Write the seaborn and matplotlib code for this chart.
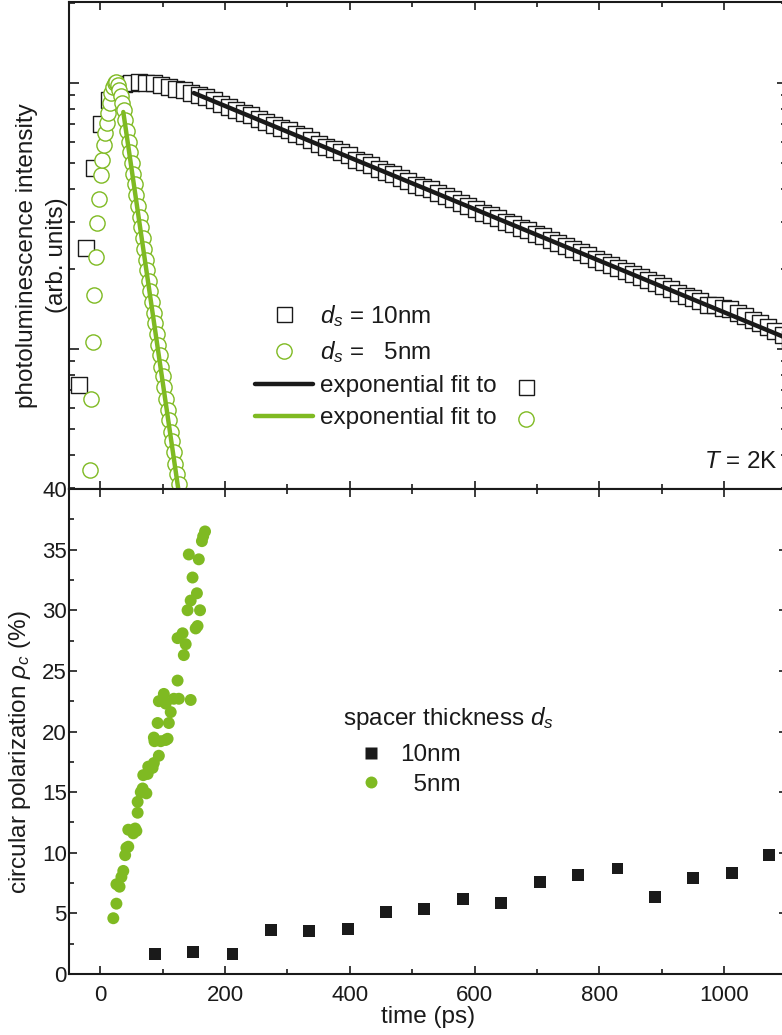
import matplotlib
matplotlib.use("Agg")
import matplotlib.pyplot as plt
from matplotlib.lines import Line2D
from matplotlib.ticker import MultipleLocator, LogLocator, NullFormatter
import pandas as pd
import seaborn as sns

GREEN = "#7FBA22"
INK = "#1a1a1a"

# ---- time-resolved photoluminescence (normalised), spacer 10 nm ----
pl_t_10nm = [-34, -22, -10, 2, 14, 26, 38, 50, 62, 74, 86, 98, 110, 122, 134, 146,
             158, 170, 182, 194, 206, 218, 230, 242, 254, 266, 278, 290, 302, 314,
             326, 338, 350, 362, 374, 386, 398, 410, 422, 434, 446, 458, 470, 482,
             494, 506, 518, 530, 542, 554, 566, 578, 590, 602, 614, 626, 638, 650,
             662, 674, 686, 698, 710, 722, 734, 746, 758, 770, 782, 794, 806, 818,
             830, 842, 854, 866, 878, 890, 902, 914, 926, 938, 950, 962, 974, 986,
             998, 1010, 1022, 1034, 1046, 1058, 1070, 1082, 1094, 1106]
pl_10nm = [0.073, 0.24, 0.48, 0.70, 0.86, 0.95, 0.99, 1.00, 1.01, 1.00, 1.00, 0.98,
           0.97, 0.95, 0.94, 0.92, 0.905, 0.885, 0.86, 0.835, 0.815, 0.79, 0.77,
           0.755, 0.73, 0.715, 0.695, 0.68, 0.665, 0.645, 0.63, 0.61, 0.59, 0.575,
           0.565, 0.55, 0.535, 0.515, 0.505, 0.49, 0.475, 0.465, 0.455, 0.44, 0.43,
           0.415, 0.405, 0.40, 0.385, 0.375, 0.365, 0.355, 0.345, 0.335, 0.325,
           0.32, 0.31, 0.30, 0.295, 0.285, 0.28, 0.27, 0.265, 0.258, 0.25, 0.243,
           0.237, 0.231, 0.225, 0.219, 0.213, 0.207, 0.202, 0.197, 0.192, 0.186,
           0.182, 0.177, 0.172, 0.168, 0.163, 0.159, 0.155, 0.151, 0.147, 0.146,
           0.143, 0.141, 0.137, 0.133, 0.129, 0.125, 0.121, 0.117, 0.113, 0.109]

# ---- time-resolved photoluminescence (normalised), spacer 5 nm ----
pl_t_5nm = [-17, -14.5, -12, -9.5, -7, -4.5, -2, 0.5, 3, 5.5, 8, 10.5, 13, 15.5, 18,
            20.5, 23, 25.5, 28, 30.5, 33, 35.5, 38, 40.5, 43, 45.5, 48, 50.5, 53,
            55.5, 58, 60.5, 63, 65.5, 68, 70.5, 73, 75.5, 78, 80.5, 83, 85.5, 88,
            90.5, 93, 95.5, 98, 100.5, 103, 105.5, 108, 110.5, 113, 115.5, 118,
            120.5, 123, 125.5, 128, 130.5]
pl_5nm = [0.035, 0.065, 0.106, 0.16, 0.222, 0.298, 0.366, 0.451, 0.514, 0.585,
          0.649, 0.707, 0.771, 0.841, 0.917, 0.966, 1.00, 1.01, 0.98, 0.94, 0.89,
          0.84, 0.79, 0.724, 0.66, 0.602, 0.549, 0.50, 0.456, 0.416, 0.379, 0.345,
          0.315, 0.287, 0.262, 0.238, 0.217, 0.198, 0.181, 0.165, 0.150, 0.137,
          0.125, 0.114, 0.104, 0.095, 0.086, 0.079, 0.072, 0.065, 0.059, 0.054,
          0.049, 0.045, 0.041, 0.037, 0.034, 0.031, 0.028, 0.026]

# ---- single-exponential fits (end points of the fitted range) ----
fit_t_10nm = [150, 1100]
fit_10nm = [0.917, 0.110]
fit_t_5nm = [37, 128]
fit_5nm = [0.778, 0.0268]

# ---- degree of circular polarization ----
pol_t_10nm = [88, 149, 212, 274, 335, 397, 458, 519, 582, 643, 705, 766, 829, 889,
              950, 1013, 1072]
pol_10nm = [1.65, 1.8, 1.65, 3.6, 3.55, 3.7, 5.1, 5.35, 6.2, 5.85, 7.55, 8.2, 8.7,
            6.35, 7.9, 8.3, 9.8]
pol_t_5nm = [21, 26, 26, 31, 34, 37, 40, 42, 45, 45, 53, 56, 58, 60, 60, 65, 68, 69,
             74, 76, 77, 84, 86, 87, 94, 97, 105, 86, 108, 92, 110, 94, 102, 105, 113,
             118, 126, 145, 124, 124, 132, 137, 134, 153, 156, 140, 160, 145, 155,
             148, 142, 158, 163, 165, 168]
pol_5nm = [4.6, 5.8, 7.4, 7.2, 8.0, 8.5, 9.8, 10.4, 10.5, 11.9, 11.6, 12.0, 11.8,
           13.3, 14.2, 15.0, 15.3, 16.4, 14.9, 16.5, 17.1, 17.0, 17.4, 19.2, 18.0,
           19.2, 19.3, 19.5, 19.4, 20.7, 20.7, 22.5, 23.1, 22.3, 21.6, 22.7, 22.7,
           22.6, 24.2, 27.7, 28.1, 27.2, 26.3, 28.5, 28.7, 30.0, 30.0, 30.8, 31.4,
           32.7, 34.6, 34.2, 35.7, 36.1, 36.5]

sns.set_style("ticks")
plt.rcParams.update({
    "font.family": ["Liberation Sans", "DejaVu Sans"],
    "mathtext.fontset": "custom",
    "mathtext.rm": "Liberation Sans",
    "mathtext.it": "Liberation Sans:italic",
    "mathtext.bf": "Liberation Sans:bold",
    "text.color": INK,
    "axes.labelcolor": INK,
    "axes.edgecolor": INK,
    "xtick.color": INK,
    "ytick.color": INK,
    "axes.linewidth": 1.5,
})

W, H = 782, 1035
fig = plt.figure(figsize=(W / 100, H / 100), dpi=100)
left, right = 69 / W, 786.6 / W
ax_pl = fig.add_axes([left, (H - 489) / H, right - left, (489 - 2) / H])
ax_pol = fig.add_axes([left, (H - 974) / H, right - left, (974 - 489) / H], sharex=ax_pl)

# ---------------- upper panel: PL transients ----------------
ax_pl.set_yscale("log")
df10 = pd.DataFrame({"t": pl_t_10nm, "I": pl_10nm})
df5 = pd.DataFrame({"t": pl_t_5nm, "I": pl_5nm})
sns.scatterplot(data=df10, x="t", y="I", ax=ax_pl, marker="s", s=117,
                facecolor="white", edgecolor=INK, linewidth=1.0, zorder=2, legend=False)
sns.lineplot(x=fit_t_10nm, y=fit_10nm, ax=ax_pl, color=INK, linewidth=3.2, zorder=3)
sns.scatterplot(data=df5, x="t", y="I", ax=ax_pl, marker="o", s=120,
                facecolor="white", edgecolor=GREEN, linewidth=1.0, zorder=4, legend=False)
sns.lineplot(x=fit_t_5nm, y=fit_5nm, ax=ax_pl, color=GREEN, linewidth=3.2, zorder=5)

ax_pl.set_xlim(-50, 1100)
ax_pl.set_ylim(0.0298, 2.016)
ax_pl.yaxis.set_major_locator(LogLocator(base=10))
ax_pl.yaxis.set_minor_locator(LogLocator(base=10, subs=range(2, 10)))
ax_pl.yaxis.set_major_formatter(NullFormatter())
ax_pl.yaxis.set_minor_formatter(NullFormatter())
ax_pl.set_xlabel("")
ax_pl.set_ylabel("photoluminescence intensity\n(arb. units)", fontsize=17.5,
                 linespacing=1.45)
ax_pl.yaxis.set_label_coords(-0.002, 0.48)
ax_pl.tick_params(axis="both", which="both", direction="in", top=True, right=True,
                  labelbottom=False, labelleft=False, width=1.2)
ax_pl.tick_params(axis="y", which="major", length=7)
ax_pl.tick_params(axis="y", which="minor", length=4)
ax_pl.tick_params(axis="x", which="major", length=6)
ax_pl.tick_params(axis="x", which="minor", length=3.5)

h_sq = Line2D([], [], ls="none", marker="s", ms=10.8, mfc="white", mec=INK, mew=1.0)
h_ci = Line2D([], [], ls="none", marker="o", ms=11, mfc="white", mec=GREEN, mew=1.0)
h_fk = Line2D([], [], color=INK, lw=3.2)
h_fg = Line2D([], [], color=GREEN, lw=3.2)
leg_pl = ax_pl.legend([h_sq, h_ci, h_fk, h_fg],
                      ["$d_s$ = 10nm", "$d_s$ =   5nm",
                       "exponential fit to", "exponential fit to"],
                      loc="upper left", bbox_to_anchor=(0.259, 0.382),
                      frameon=False, fontsize=17.5, handlelength=2.4,
                      handletextpad=0.3, labelspacing=0.42, borderpad=0,
                      borderaxespad=0)
ax_pl.text(0.9874, 0.0554, "$T$ = 2K", transform=ax_pl.transAxes,
           ha="right", va="center", fontsize=17.5)

# ---------------- lower panel: circular polarization ----------------
dp10 = pd.DataFrame({"t": pol_t_10nm, "rho": pol_10nm})
dp5 = pd.DataFrame({"t": pol_t_5nm, "rho": pol_5nm})
sns.scatterplot(data=dp10, x="t", y="rho", ax=ax_pol, marker="s", s=74,
                color=INK, edgecolor="none", zorder=3, legend=False)
sns.scatterplot(data=dp5, x="t", y="rho", ax=ax_pol, marker="o", s=74,
                color=GREEN, edgecolor="none", zorder=3, legend=False)
ax_pol.set_ylim(0, 40)
ax_pol.yaxis.set_major_locator(MultipleLocator(5))
ax_pol.yaxis.set_minor_locator(MultipleLocator(2.5))
ax_pol.xaxis.set_major_locator(MultipleLocator(200))
ax_pol.xaxis.set_minor_locator(MultipleLocator(100))
ax_pol.tick_params(axis="both", which="both", direction="in", top=True, right=True,
                   width=1.2, labelsize=16)
ax_pol.tick_params(axis="both", which="major", length=6)
ax_pol.tick_params(axis="both", which="minor", length=3.5)
ax_pol.tick_params(axis="y", pad=1.5)
ax_pol.tick_params(axis="x", pad=8)
ax_pol.set_xlabel("time (ps)", fontsize=17.5, labelpad=0)
ax_pol.set_ylabel(r"circular polarization $\rho_c$ (%)", fontsize=17.5)
ax_pol.yaxis.set_label_coords(-0.050, 0.458)

p_sq = Line2D([], [], ls="none", marker="s", ms=8.6, mfc=INK, mec="none")
p_ci = Line2D([], [], ls="none", marker="o", ms=8.6, mfc=GREEN, mec="none")
leg_pol = ax_pol.legend([p_sq, p_ci], ["10nm", "  5nm"],
                        title="spacer thickness $d_s$", title_fontsize=17.5,
                        loc="upper left", bbox_to_anchor=(0.382, 0.555),
                        frameon=False, fontsize=17.5, handlelength=2.3,
                        handletextpad=0.05, labelspacing=0.3, borderpad=0,
                        borderaxespad=0, alignment="left")
# a little more room between the legend title and its entries
leg_pol._legend_box.sep = 9.0

# symbols trailing the fit entries of the upper legend
fig.canvas.draw()
renderer = fig.canvas.get_renderer()
inv = fig.transFigure.inverted()
for txt, mk in zip(leg_pl.get_texts()[2:],
                   [dict(marker="s", ms=10.8, mfc="white", mec=INK),
                    dict(marker="o", ms=11, mfc="white", mec=GREEN)]):
    bb = txt.get_window_extent(renderer)
    fx, fy = inv.transform((bb.x1 + 29, (bb.y0 + bb.y1) / 2 - 1))
    fig.add_artist(Line2D([fx], [fy], transform=fig.transFigure, ls="none",
                          mew=1.0, **mk))

fig.savefig("out.png", dpi=100)
